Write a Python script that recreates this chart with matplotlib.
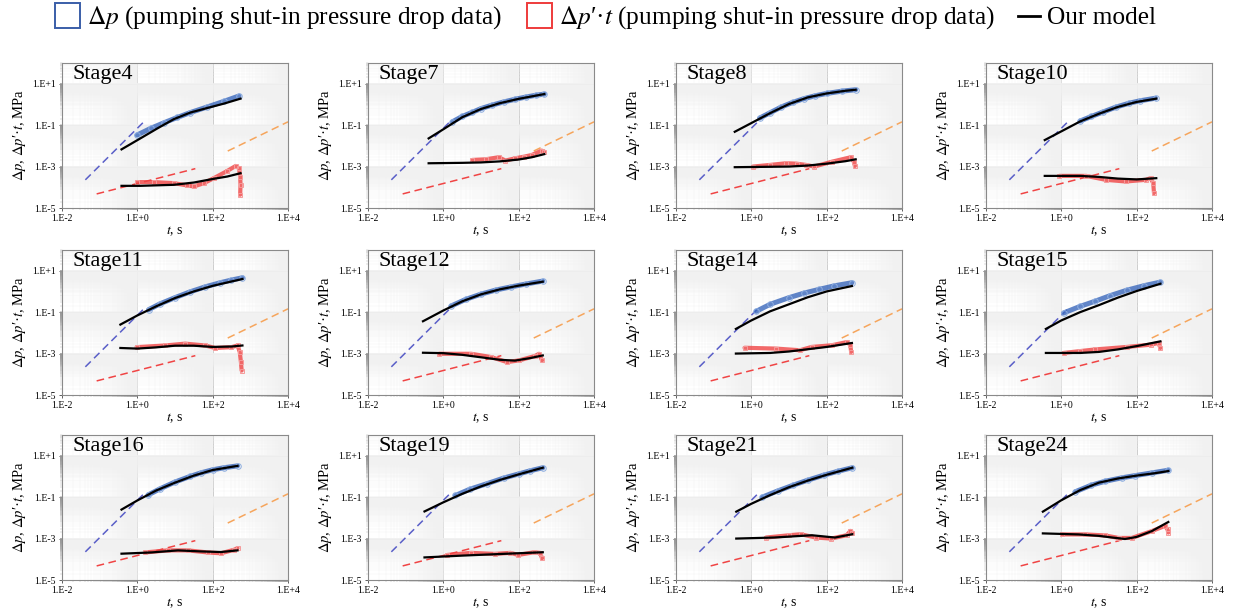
import numpy as np
import matplotlib
matplotlib.use("Agg")
import matplotlib.pyplot as plt
from matplotlib.lines import Line2D
from matplotlib.ticker import FixedLocator, FuncFormatter

plt.rcParams['font.family'] = ['Liberation Serif', 'DejaVu Serif']
plt.rcParams['mathtext.fontset'] = 'stix'

# values are (log10 t [s], log10 y [MPa])
# DP = measured dp, DPT = measured dp'*t, MDP / MDPT = model curves
S4_DP = [(-0.01, -1.48), (0.35, -1.16), (0.7, -0.89), (1.06, -0.63), (1.41, -0.39), (1.86, -0.12),
         (2.3, 0.15), (2.7, 0.41)]
S4_DPT = [(-0.01, -3.75), (0.44, -3.75), (0.97, -3.8), (1.32, -3.91), (1.5, -3.96), (1.77, -3.8),
          (2.03, -3.56), (2.39, -3.21), (2.61, -2.97), (2.7, -3.08), (2.73, -3.48), (2.74, -3.88),
          (2.73, -4.36)]
S4_MDP = [(-0.42, -2.17), (0.08, -1.64), (0.53, -1.16), (0.97, -0.71), (1.41, -0.39), (1.86, -0.17),
          (2.3, 0.04), (2.74, 0.28)]
S4_MDPT = [(-0.42, -3.93), (0.08, -3.93), (0.97, -3.88), (1.5, -3.77), (2.03, -3.59), (2.39, -3.48),
           (2.74, -3.32)]

S7_DP = [(0.24, -0.84), (0.5, -0.58), (0.77, -0.38), (1.0, -0.2), (1.3, -0.03), (1.6, 0.12),
         (1.91, 0.25), (2.2, 0.36), (2.45, 0.44), (2.68, 0.5)]
S7_DPT = [(0.77, -2.68), (1.12, -2.65), (1.47, -2.55), (1.65, -2.71), (1.91, -2.6), (2.15, -2.52),
          (2.35, -2.44), (2.61, -2.23), (2.68, -2.28)]
S7_MDP = [(-0.39, -1.64), (0.0, -1.2), (0.5, -0.62), (1.0, -0.22), (1.5, 0.06), (2.0, 0.27),
          (2.5, 0.44), (2.68, 0.5)]
S7_MDPT = [(-0.39, -2.84), (0.5, -2.82), (1.0, -2.8), (1.5, -2.75), (2.0, -2.66), (2.35, -2.55),
           (2.68, -2.4)]

S8_DP = [(0.22, -0.66), (0.5, -0.4), (0.8, -0.12), (1.1, 0.1), (1.4, 0.28), (1.7, 0.42), (2.0, 0.53),
         (2.4, 0.64), (2.77, 0.71)]
S8_DPT = [(0.04, -3.0), (0.5, -2.92), (0.92, -2.84), (1.2, -2.86), (1.45, -2.92), (1.67, -3.0),
          (2.15, -2.76), (2.64, -2.55), (2.72, -2.76), (2.75, -2.97)]
S8_MDP = [(-0.44, -1.32), (0.0, -0.9), (0.5, -0.42), (1.0, 0.02), (1.5, 0.34), (2.0, 0.53),
          (2.5, 0.66), (2.77, 0.71)]
S8_MDPT = [(-0.44, -3.03), (0.5, -3.01), (1.0, -3.0), (1.5, -2.95), (2.0, -2.86), (2.5, -2.74),
           (2.77, -2.65)]

S10_DP = [(0.5, -0.8), (0.8, -0.58), (1.1, -0.37), (1.45, -0.13), (1.8, 0.06), (2.1, 0.18), (2.5, 0.3)]
S10_DPT = [(-0.05, -3.45), (0.66, -3.45), (1.18, -3.64), (1.71, -3.72), (2.24, -3.64), (2.37, -3.56),
           (2.44, -3.8), (2.46, -4.28)]
S10_MDP = [(-0.44, -1.72), (0.0, -1.3), (0.5, -0.82), (1.0, -0.45), (1.5, -0.12), (2.0, 0.12),
           (2.52, 0.28)]
S10_MDPT = [(-0.44, -3.45), (0.5, -3.45), (1.0, -3.5), (1.5, -3.58), (2.0, -3.62), (2.52, -3.56)]

S11_DP = [(0.3, -0.88), (0.6, -0.6), (1.0, -0.3), (1.4, -0.02), (1.8, 0.22), (2.2, 0.42), (2.5, 0.55),
          (2.79, 0.66)]
S11_DPT = [(-0.02, -2.69), (0.73, -2.61), (1.27, -2.52), (1.8, -2.61), (2.07, -2.73), (2.5, -2.69),
           (2.66, -2.61), (2.72, -2.93), (2.75, -3.4), (2.77, -3.82)]
S11_MDP = [(-0.45, -1.6), (0.0, -1.16), (0.5, -0.72), (1.0, -0.32), (1.5, 0.0), (2.0, 0.27),
           (2.5, 0.48), (2.79, 0.6)]
S11_MDPT = [(-0.45, -2.73), (0.0, -2.76), (0.5, -2.7), (1.0, -2.62), (1.5, -2.62), (2.0, -2.68),
            (2.5, -2.66), (2.79, -2.61)]

S12_DP = [(0.21, -0.7), (0.6, -0.38), (1.0, -0.13), (1.4, 0.07), (1.8, 0.22), (2.2, 0.36), (2.64, 0.5)]
S12_DPT = [(-0.11, -3.01), (0.74, -3.01), (1.27, -3.17), (1.69, -3.41), (2.01, -3.33), (2.43, -3.12),
           (2.54, -3.01), (2.62, -3.33)]
S12_MDP = [(-0.54, -1.44), (0.0, -0.92), (0.5, -0.48), (1.0, -0.14), (1.5, 0.1), (2.0, 0.28),
           (2.64, 0.47)]
S12_MDPT = [(-0.54, -2.96), (0.0, -2.98), (0.5, -3.06), (1.0, -3.18), (1.5, -3.3), (1.9, -3.34),
            (2.3, -3.22), (2.64, -3.09)]

S14_DP = [(0.13, -0.96), (0.5, -0.62), (1.0, -0.3), (1.4, -0.08), (1.8, 0.1), (2.2, 0.27), (2.67, 0.42)]
S14_DPT = [(-0.18, -2.72), (0.66, -2.76), (1.29, -2.84), (1.6, -2.68), (2.13, -2.6), (2.55, -2.44),
           (2.63, -2.6), (2.65, -2.92)]
S14_MDP = [(-0.41, -1.81), (0.0, -1.4), (0.5, -0.96), (1.0, -0.62), (1.5, -0.28), (2.0, 0.0),
           (2.67, 0.26)]
S14_MDPT = [(-0.41, -3.0), (0.5, -2.97), (1.0, -2.9), (1.5, -2.79), (2.0, -2.68), (2.67, -2.49)]

S15_DP = [(0.06, -1.04), (0.5, -0.72), (0.9, -0.47), (1.3, -0.2), (1.74, 0.06), (2.2, 0.28), (2.63, 0.45)]
S15_DPT = [(0.06, -2.97), (0.5, -2.88), (0.9, -2.8), (1.74, -2.68), (2.37, -2.57), (2.58, -2.49),
           (2.63, -2.73)]
S15_MDP = [(-0.41, -1.81), (0.0, -1.4), (0.5, -1.0), (1.0, -0.66), (1.5, -0.3), (2.0, 0.02),
           (2.63, 0.37)]
S15_MDPT = [(-0.41, -2.97), (0.5, -2.97), (1.0, -2.92), (1.5, -2.8), (2.0, -2.64), (2.63, -2.41)]

S16_DP = [(0.29, -0.89), (0.6, -0.6), (1.0, -0.27), (1.4, 0.0), (1.7, 0.18), (2.0, 0.32), (2.3, 0.42),
          (2.66, 0.51)]
S16_DPT = [(0.2, -3.67), (0.81, -3.57), (1.34, -3.57), (1.87, -3.67), (2.22, -3.71), (2.57, -3.54),
           (2.66, -3.46)]
S16_MDP = [(-0.42, -1.6), (0.0, -1.16), (0.5, -0.68), (1.0, -0.3), (1.5, 0.04), (2.0, 0.31),
           (2.66, 0.51)]
S16_MDPT = [(-0.42, -3.73), (0.37, -3.67), (1.08, -3.57), (1.69, -3.62), (2.22, -3.65), (2.66, -3.57)]

S19_DP = [(0.32, -0.92), (0.7, -0.62), (1.16, -0.35), (1.6, -0.08), (2.0, 0.12), (2.3, 0.27), (2.64, 0.42)]
S19_DPT = [(0.11, -3.79), (0.74, -3.69), (1.36, -3.74), (1.78, -3.69), (1.99, -3.79), (2.41, -3.66),
           (2.57, -3.69), (2.62, -3.95)]
S19_MDP = [(-0.5, -1.69), (0.0, -1.25), (0.5, -0.84), (1.0, -0.48), (1.5, -0.17), (2.0, 0.1),
           (2.64, 0.42)]
S19_MDPT = [(-0.5, -3.91), (0.53, -3.82), (1.57, -3.74), (2.64, -3.66)]

S21_DP = [(0.29, -1.0), (0.7, -0.7), (1.1, -0.43), (1.5, -0.18), (1.92, 0.06), (2.3, 0.25), (2.68, 0.42)]
S21_DPT = [(0.39, -2.95), (1.0, -2.84), (1.31, -2.79), (1.71, -2.95), (2.12, -3.0), (2.53, -2.84),
           (2.63, -2.63), (2.68, -2.71)]
S21_MDP = [(-0.4, -1.7), (0.0, -1.32), (0.5, -0.9), (1.0, -0.52), (1.5, -0.2), (2.0, 0.08),
           (2.68, 0.42)]
S21_MDPT = [(-0.4, -3.0), (0.6, -2.95), (1.61, -2.84), (2.22, -2.95), (2.68, -2.79)]

S24_DP = [(0.37, -0.74), (0.8, -0.42), (1.17, -0.23), (1.6, -0.07), (1.96, 0.04), (2.4, 0.17), (2.84, 0.3)]
S24_DPT = [(0.02, -2.8), (0.64, -2.8), (1.17, -2.85), (1.52, -2.97), (1.87, -2.97), (2.4, -2.64),
           (2.75, -2.39), (2.82, -2.56), (2.84, -2.71)]
S24_MDP = [(-0.49, -1.7), (0.0, -1.15), (0.5, -0.66), (1.0, -0.3), (1.5, -0.1), (2.0, 0.04),
           (2.5, 0.16), (2.84, 0.26)]
S24_MDPT = [(-0.49, -2.75), (0.46, -2.8), (1.0, -2.87), (1.4, -2.96), (1.69, -3.02), (2.0, -2.92),
            (2.4, -2.64), (2.84, -2.2)]

stages = [
    ("Stage4", S4_DP, S4_DPT, S4_MDP, S4_MDPT),
    ("Stage7", S7_DP, S7_DPT, S7_MDP, S7_MDPT),
    ("Stage8", S8_DP, S8_DPT, S8_MDP, S8_MDPT),
    ("Stage10", S10_DP, S10_DPT, S10_MDP, S10_MDPT),
    ("Stage11", S11_DP, S11_DPT, S11_MDP, S11_MDPT),
    ("Stage12", S12_DP, S12_DPT, S12_MDP, S12_MDPT),
    ("Stage14", S14_DP, S14_DPT, S14_MDP, S14_MDPT),
    ("Stage15", S15_DP, S15_DPT, S15_MDP, S15_MDPT),
    ("Stage16", S16_DP, S16_DPT, S16_MDP, S16_MDPT),
    ("Stage19", S19_DP, S19_DPT, S19_MDP, S19_MDPT),
    ("Stage21", S21_DP, S21_DPT, S21_MDP, S21_MDPT),
    ("Stage24", S24_DP, S24_DPT, S24_MDP, S24_MDPT),
]

# reference dashed lines (same in every panel), log10 end points
BLUE_REF = [(-1.38, -3.64), (0.2, -0.79)]
RED_REF = [(-1.08, -4.32), (1.54, -3.1)]
ORANGE_REF = [(2.4, -2.25), (4.0, -0.84)]

X_MAJOR = [-2, 0, 2, 4]
Y_MAJOR = [-5, -3, -1, 1]

C_BLUE = "#3a68bc"
C_BLUE_LIGHT = "#8eaee0"
C_RED = "#f04444"
C_RED_LIGHT = "#f59a9a"
C_BLUE_REF = "#5a5fc8"
C_ORANGE = "#f6a55c"


def unlog(pts):
    a = np.array(pts, dtype=float)
    return 10 ** a[:, 0], 10 ** a[:, 1]


def minor_positions(majors):
    out = []
    for m in majors:
        for k in range(2, 100):
            out.append(k * 10.0 ** m)
    return out


def style_axes(ax):
    ax.set_xscale("log")
    ax.set_yscale("log")
    ax.set_xlim(1e-2, 1e4)
    ax.set_ylim(1e-5, 1e2)
    ax.xaxis.set_major_locator(FixedLocator([10.0 ** e for e in X_MAJOR]))
    ax.yaxis.set_major_locator(FixedLocator([10.0 ** e for e in Y_MAJOR]))
    ax.xaxis.set_minor_locator(FixedLocator(minor_positions(X_MAJOR)))
    ax.yaxis.set_minor_locator(FixedLocator(minor_positions(Y_MAJOR)))
    fmt = FuncFormatter(lambda v, p: "1.E%+d" % int(round(np.log10(v))))
    ax.xaxis.set_major_formatter(fmt)
    ax.yaxis.set_major_formatter(fmt)
    ax.tick_params(which="major", labelsize=7, length=2.5, width=0.6, pad=2, color="#444444")
    ax.tick_params(which="minor", length=1.5, width=0.25, color="#9a9a9a",
                   labelbottom=False, labelleft=False)
    ax.grid(which="minor", color="#f1f1f1", lw=0.3)
    ax.grid(which="major", color="#c4c4c4", lw=0.7)
    ax.set_axisbelow(True)
    for s in ax.spines.values():
        s.set_color("#8a8a8a")
        s.set_linewidth(0.8)
    ax.set_xlabel(r"$t$, s", fontsize=10, labelpad=1)
    ax.set_ylabel(r"$\Delta p$, $\Delta p$′·$t$, MPa", fontsize=10.5, labelpad=3)


fig = plt.figure(figsize=(12.33, 6.13), dpi=100)
W, H = 1233.0, 613.0
col_left = [62, 368, 676, 986]
row_top = [63, 250, 435]
ax_w, ax_h = 226, 145

for i, (name, dp, dpt, mdp, mdpt) in enumerate(stages):
    r, c = divmod(i, 4)
    ax = fig.add_axes([col_left[c] / W, 1 - (row_top[r] + ax_h) / H, ax_w / W, ax_h / H])
    style_axes(ax)

    for ref, col in ((BLUE_REF, C_BLUE_REF), (RED_REF, C_RED), (ORANGE_REF, C_ORANGE)):
        x, y = unlog(ref)
        ax.plot(x, y, ls=(0, (5, 3)), color=col, lw=1.1)

    # measured data: thick band plus hollow markers
    x, y = unlog(dp)
    ax.plot(x, y, color=C_BLUE, lw=3.6, alpha=0.8, solid_capstyle="round")
    ax.plot(x, y, ls="none", marker="o", ms=4, mfc="none", mec=C_BLUE_LIGHT, mew=0.7)
    x, y = unlog(dpt)
    ax.plot(x, y, color=C_RED, lw=3.0, alpha=0.8, solid_capstyle="round")
    ax.plot(x, y, ls="none", marker="s", ms=3.5, mfc="none", mec=C_RED_LIGHT, mew=0.7)

    x, y = unlog(mdp)
    ax.plot(x, y, color="black", lw=1.6)
    x, y = unlog(mdpt)
    ax.plot(x, y, color="black", lw=1.6)

    ax.text(0.045, 0.985, name, transform=ax.transAxes, ha="left", va="top", fontsize=16)

# legend entries placed one by one so the gaps match the original
legend_items = [
    (Line2D([], [], ls="none", marker="s", ms=18, mfc="none", mec="#3a5ea8", mew=1.4),
     r"$\Delta p$ (pumping shut-in pressure drop data)", 54, 1.0),
    (Line2D([], [], ls="none", marker="s", ms=18, mfc="none", mec="#ee3b3b", mew=1.4),
     r"$\Delta p$′·$t$ (pumping shut-in pressure drop data)", 526, 1.0),
    (Line2D([], [], color="black", lw=2.0), "Our model", 1018, 0.85),
]
for h, lab, xpx, hl in legend_items:
    fig.legend([h], [lab], loc="center left", bbox_to_anchor=(xpx / W, 1 - 18 / H), frameon=False,
               fontsize=18.3, handlelength=hl, handletextpad=0.3, borderpad=0, borderaxespad=0)

fig.savefig("out.png", dpi=100)
